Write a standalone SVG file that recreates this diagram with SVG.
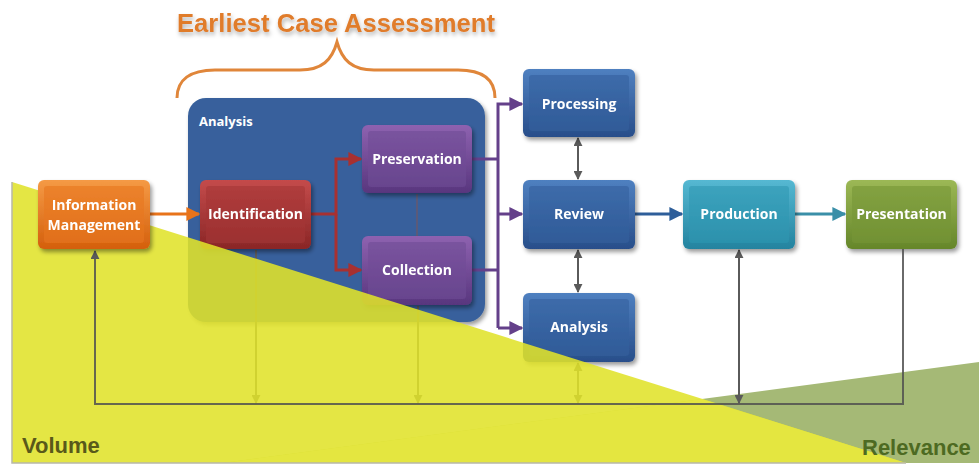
<svg xmlns="http://www.w3.org/2000/svg" width="979" height="466" viewBox="0 0 979 466">
<style>
.lbl{font-family:"Open Sans","Noto Sans","Liberation Sans",sans-serif;font-weight:bold;font-size:14px;fill:#ffffff;text-anchor:middle}
.big{font-family:"Liberation Sans",Arial,sans-serif;font-weight:bold}
.ln{fill:none;stroke-width:3}
.gl{fill:none;stroke:#5a5a5a;stroke-width:2}
</style>
<defs>
<filter id="sh" x="-20%" y="-20%" width="150%" height="160%">
<feDropShadow dx="2" dy="3" stdDeviation="2" flood-color="#000" flood-opacity="0.4"/>
</filter>
<filter id="tsh" x="-10%" y="-30%" width="120%" height="180%">
<feDropShadow dx="1" dy="3" stdDeviation="2" flood-color="#000" flood-opacity="0.3"/>
</filter>
<linearGradient id="gOr" x1="0" y1="0" x2="0" y2="1"><stop offset="0" stop-color="#f59a45"/><stop offset="1" stop-color="#d45f0c"/></linearGradient>
<linearGradient id="gRd" x1="0" y1="0" x2="0" y2="1"><stop offset="0" stop-color="#c44b4b"/><stop offset="1" stop-color="#8a2626"/></linearGradient>
<linearGradient id="gPu" x1="0" y1="0" x2="0" y2="1"><stop offset="0" stop-color="#8e62b0"/><stop offset="1" stop-color="#58367e"/></linearGradient>
<linearGradient id="gBl" x1="0" y1="0" x2="0" y2="1"><stop offset="0" stop-color="#4f80c0"/><stop offset="1" stop-color="#284e8a"/></linearGradient>
<linearGradient id="gTe" x1="0" y1="0" x2="0" y2="1"><stop offset="0" stop-color="#55b8d2"/><stop offset="1" stop-color="#24839f"/></linearGradient>
<linearGradient id="gGr" x1="0" y1="0" x2="0" y2="1"><stop offset="0" stop-color="#9cb855"/><stop offset="1" stop-color="#65862a"/></linearGradient>
<marker id="aOr" viewBox="0 0 10 10" refX="9" refY="5" markerWidth="14" markerHeight="14" markerUnits="userSpaceOnUse" orient="auto"><path d="M0,0 L10,5 L0,10 Z" fill="#e8731a"/></marker>
<marker id="aRd" viewBox="0 0 10 10" refX="9" refY="5" markerWidth="14" markerHeight="14" markerUnits="userSpaceOnUse" orient="auto"><path d="M0,0 L10,5 L0,10 Z" fill="#a83030"/></marker>
<marker id="aPu" viewBox="0 0 10 10" refX="9" refY="5" markerWidth="14" markerHeight="14" markerUnits="userSpaceOnUse" orient="auto"><path d="M0,0 L10,5 L0,10 Z" fill="#64408a"/></marker>
<marker id="aBl" viewBox="0 0 10 10" refX="9" refY="5" markerWidth="14" markerHeight="14" markerUnits="userSpaceOnUse" orient="auto"><path d="M0,0 L10,5 L0,10 Z" fill="#2e5e9a"/></marker>
<marker id="aTe" viewBox="0 0 10 10" refX="9" refY="5" markerWidth="14" markerHeight="14" markerUnits="userSpaceOnUse" orient="auto"><path d="M0,0 L10,5 L0,10 Z" fill="#3a8fa8"/></marker>
<marker id="aGy" viewBox="0 0 10 10" refX="9" refY="5" markerWidth="9" markerHeight="9" markerUnits="userSpaceOnUse" orient="auto-start-reverse"><path d="M0,0 L10,5 L0,10 Z" fill="#5a5a5a"/></marker>
</defs>

<rect width="979" height="466" fill="#ffffff"/>
<polygon id="relevance-wedge" points="222,463 979,362 979,463" fill="#a5b976"/>

<text x="336" y="32" class="big" font-size="25" fill="#e07b2c" text-anchor="middle" textLength="318" lengthAdjust="spacingAndGlyphs" filter="url(#tsh)">Earliest Case Assessment</text>
<path id="brace" d="M177,98 C177,80 190,70 215,70 L300,70 C322,70 332,60 337,42 C342,60 352,70 374,70 L458,70 C483,70 495,80 495,98" fill="none" stroke="#e0863a" stroke-width="3"/>

<g id="analysis-group">
<rect x="188" y="98" width="297" height="224" rx="18" fill="#37619c" filter="url(#sh)"/>
<text x="199" y="126" class="lbl" style="text-anchor:start;font-size:13px">Analysis</text>
</g>

<g id="connectors">
<line x1="150" y1="214" x2="199" y2="214" class="ln" stroke="#e8731a" marker-end="url(#aOr)"/>
<path d="M311,214 H336 V159 H361" class="ln" stroke="#a83030" marker-end="url(#aRd)"/>
<path d="M336,214 V270 H361" class="ln" stroke="#a83030" marker-end="url(#aRd)"/>
<line x1="417" y1="194" x2="417" y2="236" stroke="#5a5a7a" stroke-width="2"/>
<path d="M472,159 H498 M472,270 H498" class="ln" stroke="#64408a"/>
<path d="M498,328 V104 H522" class="ln" stroke="#64408a" marker-end="url(#aPu)"/>
<line x1="498" y1="214" x2="522" y2="214" class="ln" stroke="#64408a" marker-end="url(#aPu)"/>
<line x1="498" y1="328" x2="522" y2="328" class="ln" stroke="#64408a" marker-end="url(#aPu)"/>
<line x1="578" y1="138" x2="578" y2="179" class="gl" marker-start="url(#aGy)" marker-end="url(#aGy)"/>
<line x1="578" y1="250" x2="578" y2="292" class="gl" marker-start="url(#aGy)" marker-end="url(#aGy)"/>
<line x1="635" y1="214" x2="682" y2="214" class="ln" stroke="#2e5e9a" marker-end="url(#aBl)"/>
<line x1="795" y1="214" x2="845" y2="214" class="ln" stroke="#3a8fa8" marker-end="url(#aTe)"/>
<line x1="256" y1="250" x2="256" y2="403" class="gl" marker-end="url(#aGy)"/>
<line x1="418" y1="306" x2="418" y2="403" class="gl" marker-end="url(#aGy)"/>
<line x1="578" y1="363" x2="578" y2="403" class="gl" marker-start="url(#aGy)" marker-end="url(#aGy)"/>
<line x1="739" y1="250" x2="739" y2="403" class="gl" marker-start="url(#aGy)" marker-end="url(#aGy)"/>
</g>

<g id="identification" filter="url(#sh)">
<rect x="200" y="180" width="111" height="69" rx="6" fill="url(#gRd)"/>
<rect x="206" y="186" width="99" height="57" rx="3" fill="#a53535" opacity="0.6"/>
<text x="255.5" y="219" class="lbl">Identification</text>
</g>
<g id="preservation" filter="url(#sh)">
<rect x="362" y="125" width="110" height="68" rx="6" fill="url(#gPu)"/>
<rect x="368" y="131" width="98" height="56" rx="3" fill="#704c96" opacity="0.6"/>
<text x="417" y="164" class="lbl">Preservation</text>
</g>
<g id="collection" filter="url(#sh)">
<rect x="362" y="236" width="110" height="69" rx="6" fill="url(#gPu)"/>
<rect x="368" y="242" width="98" height="57" rx="3" fill="#704c96" opacity="0.6"/>
<text x="417" y="275" class="lbl">Collection</text>
</g>
<g id="processing" filter="url(#sh)">
<rect x="523" y="69" width="112" height="68" rx="6" fill="url(#gBl)"/>
<rect x="529" y="75" width="100" height="56" rx="3" fill="#33609e" opacity="0.6"/>
<text x="579" y="109" class="lbl">Processing</text>
</g>
<g id="review" filter="url(#sh)">
<rect x="523" y="180" width="112" height="69" rx="6" fill="url(#gBl)"/>
<rect x="529" y="186" width="100" height="57" rx="3" fill="#33609e" opacity="0.6"/>
<text x="579" y="219" class="lbl">Review</text>
</g>
<g id="analysis" filter="url(#sh)">
<rect x="523" y="293" width="112" height="69" rx="6" fill="url(#gBl)"/>
<rect x="529" y="299" width="100" height="57" rx="3" fill="#33609e" opacity="0.6"/>
<text x="579" y="332" class="lbl">Analysis</text>
</g>
<g id="production" filter="url(#sh)">
<rect x="683" y="180" width="112" height="69" rx="6" fill="url(#gTe)"/>
<rect x="689" y="186" width="100" height="57" rx="3" fill="#2f98b3" opacity="0.6"/>
<text x="739" y="219" class="lbl">Production</text>
</g>
<g id="presentation" filter="url(#sh)">
<rect x="846" y="180" width="111" height="69" rx="6" fill="url(#gGr)"/>
<rect x="852" y="186" width="99" height="57" rx="3" fill="#779637" opacity="0.6"/>
<text x="901.5" y="219" class="lbl">Presentation</text>
</g>

<polygon id="volume-wedge" points="12,182 906,463 12,463" fill="#e0e22a" opacity="0.88"/>
<polygon id="overlap" points="222,463 702,399 906,463" fill="#e4e640"/>
<path d="M12,182 V463 H906" fill="none" stroke="#b8b8a8" stroke-width="1.5"/>

<g id="connectors-feedback">
<path d="M903,249 V404 H95 V251" fill="none" stroke="#505050" stroke-opacity="0.85" stroke-width="2" marker-end="url(#aGy)"/>
</g>

<g id="information-management" filter="url(#sh)">
<rect x="38" y="180" width="112" height="69" rx="6" fill="url(#gOr)"/>
<rect x="44" y="186" width="100" height="57" rx="3" fill="#e8771f" opacity="0.6"/>
<text x="94" y="210" class="lbl">Information</text>
<text x="94" y="230" class="lbl">Management</text>
</g>

<text x="22" y="453" class="big" font-size="22" fill="#59591a">Volume</text>
<text x="862" y="455" class="big" font-size="22" fill="#4d6a22">Relevance</text>
</svg>
